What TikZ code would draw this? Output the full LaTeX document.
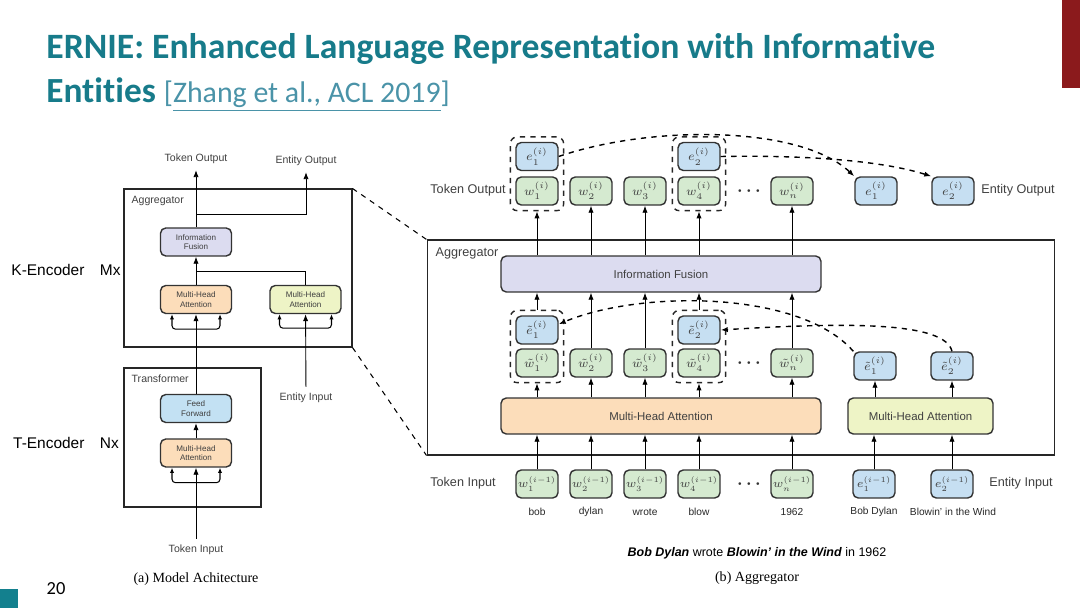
\RequirePackage{fix-cm}
\documentclass[tikz,border=0pt]{standalone}
\usepackage[no-math]{fontspec}
\setmainfont{Carlito}[Ligatures={TeX,NoCommon}]
\setsansfont{Liberation Sans}
\newfontfamily\legfont{Liberation Serif}
\usetikzlibrary{arrows.meta,fit,positioning}
\DeclareMathSizes{6.6}{6.6}{4.5}{3.8}

\definecolor{titreteal}{HTML}{177B8A}
\definecolor{lien}{HTML}{4A93A8}
\definecolor{rougebarre}{HTML}{8B1A1C}
\definecolor{tealcarre}{HTML}{13808E}
\definecolor{vertmot}{HTML}{D5EAD0}
\definecolor{bleuent}{HTML}{C6DFF2}
\definecolor{lavande}{HTML}{DCDCF0}
\definecolor{peche}{HTML}{FCDDBA}
\definecolor{jaune}{HTML}{EEF4C6}
\definecolor{bleuff}{HTML}{C3E1F3}

\tikzset{
  cadre/.style={draw=black!85, line width=0.6pt, inner sep=0},
  bloc/.style={draw=black!80, line width=0.8pt, rounded corners=3pt, inner sep=0,
    font=\sffamily\fontsize{6.5}{7.5}\selectfont, text=black!75},
  blocL/.style={bloc, minimum width=1.42cm, minimum height=0.56cm, align=center,
    font=\sffamily\fontsize{4.6}{5.4}\selectfont},
  petit/.style={bloc, minimum width=0.84cm, minimum height=0.56cm, font=\fontsize{7}{8}\selectfont},
  motv/.style={petit, fill=vertmot},
  entb/.style={petit, fill=bleuent},
  entree/.style={font=\fontsize{6.6}{7.5}\selectfont},
  groupe/.style={draw=black!85, dashed, line width=0.8pt, rounded corners=4pt, inner sep=0.1cm},
  fl/.style={-{Latex[length=4pt,width=3pt]}, line width=0.5pt},
  fourche/.style={{Latex[length=3pt,width=2.5pt]}-{Latex[length=3pt,width=2.5pt]},
    rounded corners=2pt, line width=0.6pt},
  pointille/.style={dashed, line width=0.8pt, -{Latex[length=4pt,width=3pt]}},
  etiq/.style={font=\sffamily\fontsize{7.2}{8}\selectfont, text=black!75},
  etiqL/.style={font=\sffamily\fontsize{6}{7}\selectfont, text=black!75},
  etiqS/.style={font=\sffamily\fontsize{5.8}{7}\selectfont, text=black!85},
  points/.style={font=\bfseries\boldmath\fontsize{10}{11}\selectfont, text=black!80},
  legende/.style={font=\legfont\fontsize{8}{9}\selectfont},
}

\begin{document}
\begin{tikzpicture}[x=0.02cm, y=-0.02cm]
\useasboundingbox (0,0) rectangle (1080,608);

% bandeau et titre
\fill[rougebarre] (1062,0) rectangle (1080,88);
\fill[tealcarre] (0,589) rectangle (18,608);
\node[font=\fontsize{10.5}{12}\selectfont] (num) at (56,589) {20};
\node[anchor=base west, inner sep=0, text=titreteal, font=\bfseries\fontsize{20.3}{24}\selectfont] (titre1) at (46,59)
  {ERNIE: Enhanced Language Representation with Informative};
\node[anchor=base west, inner sep=0, text=titreteal, font=\fontsize{20.1}{24}\selectfont] (titre2) at (46,103)
  {\textbf{Entities} {\color{lien}\fontsize{17}{20}\selectfont[\underline{Zhang et al., ACL 2019}]}};

% (a) architecture du modele
\node[cadre, minimum width=4.56cm, minimum height=3.16cm] (aggL) at (238,268) {};
\node[etiqL, anchor=north west] (aggLt) at ([xshift=0.04cm,yshift=-0.03cm]aggL.north west) {Aggregator};
\node[blocL, fill=lavande] (fusL) at (196,242) {Information\\Fusion};
\node[blocL, fill=peche] (mhaL1) at (196,299.5) {Multi-Head\\Attention};
\node[blocL, fill=jaune] (mhaL2) at (305.5,299.5) {Multi-Head\\Attention};
\node[cadre, minimum width=2.74cm, minimum height=2.78cm] (trfL) at (192.5,437.5) {};
\node[etiqL, anchor=north west] (trfLt) at ([xshift=0.04cm,yshift=-0.03cm]trfL.north west) {Transformer};
\node[blocL, fill=bleuff] (ffL) at (196,408.5) {Feed\\Forward};
\node[blocL, fill=peche] (mhaL3) at (196,453) {Multi-Head\\Attention};
\node[etiqL] (tokoutL) at (196,159) {Token Output};
\node[etiqL] (entoutL) at (306,161) {Entity Output};
\node[etiqL] (entinL) at (306,398) {Entity Input};
\node[etiqL] (tokinL) at (196,550) {Token Input};
\node[font=\sffamily\fontsize{8.8}{10}\selectfont] (kenc) at (66,270) {K-Encoder\quad Mx};
\node[font=\sffamily\fontsize{8.8}{10}\selectfont] (tenc) at (66,443) {T-Encoder\quad Nx};
\node[legende] (capA) at (196,579) {(a) Model Achitecture};
\coordinate (jL1) at (196,271);
\coordinate (jL2) at (196,214);

\draw[fl] (tokinL) -- (mhaL3);
\draw[fourche] ([xshift=-0.48cm]mhaL3.south) -- ++(0,15) -- ++(48,0) -- ++(0,-15);
\draw[fl] (mhaL3) -- (ffL);
\draw[fl] (ffL) -- (mhaL1);
\draw[fourche] ([xshift=-0.48cm]mhaL1.south) -- ++(0,15) -- ++(48,0) -- ++(0,-15);
\draw[fl] (entinL) -- (mhaL2);
\draw[fourche] ([xshift=-0.52cm]mhaL2.south) -- ++(0,14) -- ++(52,0) -- ++(0,-14);
\draw[fl] (mhaL1) -- (fusL);
\draw[line width=0.5pt] (mhaL2.north) |- (jL1);
\draw[fl] (fusL) -- (tokoutL);
\draw[fl] (jL2) -| (entoutL);

% (b) aggregator : sorties
\node[motv] (o1) at (537,191) {$w_1^{(i)}$};
\node[motv] (o2) at (591,191) {$w_2^{(i)}$};
\node[motv] (o3) at (645,191) {$w_3^{(i)}$};
\node[motv] (o4) at (699,191) {$w_4^{(i)}$};
\node[points] (pts1) at (749,191) {$\cdots$};
\node[motv] (on) at (792,191) {$w_n^{(i)}$};
\node[entb] (oe1) at (537,156.5) {$e_1^{(i)}$};
\node[entb] (oe2) at (699,156.5) {$e_2^{(i)}$};
\node[entb] (eo1) at (876,191) {$e_1^{(i)}$};
\node[entb] (eo2) at (953,191) {$e_2^{(i)}$};
\node[groupe, fit=(o1)(oe1)] (g1) {};
\node[groupe, fit=(o4)(oe2)] (g2) {};
\node[etiq] (tokout) at (468,190) {Token Output};
\node[etiq] (entout) at (1018,190) {Entity Output};

% (b) aggregator : cadre et blocs
\node[cadre, minimum width=12.56cm, minimum height=4.3cm] (aggR) at (741,347.5) {};
\node[etiq, anchor=north west] (aggRt) at ([xshift=0.06cm,yshift=-0.04cm]aggR.north west) {Aggregator};
\node[bloc, fill=lavande, minimum width=6.4cm, minimum height=0.72cm] (fusR) at (661,274) {Information Fusion};
\node[motv] (t1) at (537,363) {$\tilde{w}_1^{(i)}$};
\node[motv] (t2) at (591,363) {$\tilde{w}_2^{(i)}$};
\node[motv] (t3) at (645,363) {$\tilde{w}_3^{(i)}$};
\node[motv] (t4) at (699,363) {$\tilde{w}_4^{(i)}$};
\node[points] (pts2) at (749,363) {$\cdots$};
\node[motv] (tn) at (792,363) {$\tilde{w}_n^{(i)}$};
\node[entb] (te1) at (537,330) {$\tilde{e}_1^{(i)}$};
\node[entb] (te2) at (699,330) {$\tilde{e}_2^{(i)}$};
\node[entb] (et1) at (875,366) {$\tilde{e}_1^{(i)}$};
\node[entb] (et2) at (952,366) {$\tilde{e}_2^{(i)}$};
\node[groupe, fit=(t1)(te1)] (g3) {};
\node[groupe, fit=(t4)(te2)] (g4) {};
\node[bloc, fill=peche, minimum width=6.4cm, minimum height=0.72cm] (mhaR) at (661,416) {Multi-Head Attention};
\node[bloc, fill=jaune, minimum width=2.9cm, minimum height=0.72cm] (mhaE) at (920.5,416) {Multi-Head Attention};

% (b) aggregator : entrees
\node[motv, entree] (i1) at (537,484) {$w_1^{(i-1)}$};
\node[motv, entree] (i2) at (591,484) {$w_2^{(i-1)}$};
\node[motv, entree] (i3) at (645,484) {$w_3^{(i-1)}$};
\node[motv, entree] (i4) at (699,484) {$w_4^{(i-1)}$};
\node[points] (pts3) at (749,484) {$\cdots$};
\node[motv, entree] (in) at (792,484) {$w_n^{(i-1)}$};
\node[entb, entree] (ie1) at (874,484) {$e_1^{(i-1)}$};
\node[entb, entree] (ie2) at (952,484) {$e_2^{(i-1)}$};
\node[etiq] (tokin) at (463,483) {Token Input};
\node[etiq] (entin) at (1021,483) {Entity Input};
\node[etiqS] (m1) at (537,512) {bob};
\node[etiqS] (m2) at (591,512) {dylan};
\node[etiqS] (m3) at (645,512) {wrote};
\node[etiqS] (m4) at (699,512) {blow};
\node[etiqS] (mn) at (792,512) {1962};
\node[etiqS] (me1) at (874,512) {Bob Dylan};
\node[etiqS] (me2) at (953,512) {Blowin' in the Wind};
\node[font=\sffamily\fontsize{7.1}{8}\selectfont] (phr) at (757,553)
  {\textbf{\textit{Bob Dylan}} wrote \textbf{\textit{Blowin' in the Wind}} in 1962};
\node[legende] (capB) at (757,578) {(b) Aggregator};

% fleches du bas vers le haut
\draw[fl] (i1) -- (mhaR.south -| i1);
\draw[fl] (i2) -- (mhaR.south -| i2);
\draw[fl] (i3) -- (mhaR.south -| i3);
\draw[fl] (i4) -- (mhaR.south -| i4);
\draw[fl] (in) -- (mhaR.south -| in);
\draw[fl] (ie1) -- (mhaE.south -| ie1);
\draw[fl] (ie2) -- (mhaE.south -| ie2);
\draw[fl] (mhaR.north -| g3) -- (g3.south);
\draw[fl] (mhaR.north -| t2) -- (t2.south);
\draw[fl] (mhaR.north -| t3) -- (t3.south);
\draw[fl] (mhaR.north -| g4) -- (g4.south);
\draw[fl] (mhaR.north -| tn) -- (tn.south);
\draw[fl] (mhaE.north -| et1) -- (et1.south);
\draw[fl] (mhaE.north -| et2) -- (et2.south);
\draw[fl] (g3.north) -- (fusR.south -| g3);
\draw[fl] (t2.north) -- (fusR.south -| t2);
\draw[fl] (t3.north) -- (fusR.south -| t3);
\draw[fl] (g4.north) -- (fusR.south -| g4);
\draw[fl] (tn.north) -- (fusR.south -| tn);
\draw[fl] (fusR.north -| g1) -- (g1.south);
\draw[fl] (fusR.north -| o2) -- (o2.south);
\draw[fl] (fusR.north -| o3) -- (o3.south);
\draw[fl] (fusR.north -| g2) -- (g2.south);
\draw[fl] (fusR.north -| on) -- (on.south);

% alignement des entites
\draw[pointille] (et1.north west) .. controls (800,290) and (640,290) .. (te1.15);
\draw[pointille] (et2.north) .. controls (945,322) and (850,322) .. (te2.east);
\draw[pointille] (oe1.east) .. controls (650,125) and (800,125) .. (eo1.north west);
\draw[pointille] (oe2.east) .. controls (800,155) and (880,160) .. (eo2.north west);

% zoom
\draw[dashed, line width=0.6pt] (aggL.north east) -- (aggR.north west);
\draw[dashed, line width=0.6pt] (aggL.south east) -- (aggR.south west);
\end{tikzpicture}
\end{document}
